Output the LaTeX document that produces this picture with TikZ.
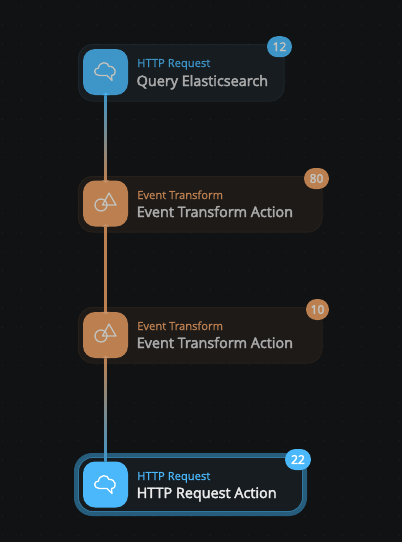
\documentclass[tikz,border=0pt]{standalone}
\usepackage{fontspec}
\setmainfont{Open Sans}
\newfontfamily\semi[FakeBold=3]{Open Sans}
\newfontfamily\lightbold[FakeBold=1]{Open Sans}
\usetikzlibrary{calc}
\definecolor{bgc}{HTML}{111213}
\definecolor{dotc}{HTML}{1E1F20}
\definecolor{blueA}{HTML}{3E95C8}
\definecolor{blueB}{HTML}{4AB8FB}
\definecolor{orangeA}{HTML}{BC8050}
\definecolor{cardB}{HTML}{171C20}
\definecolor{cardO}{HTML}{1E1A18}
\definecolor{cardBline}{HTML}{1C252B}
\definecolor{cardOline}{HTML}{26201B}
\definecolor{titleDim}{HTML}{A9A9A9}
\definecolor{iconDim}{HTML}{C2C2BE}
\tikzset{
  x=1pt,y=-1pt,
  card/.style={rounded corners=14pt,line width=1pt},
  iconbox/.style={minimum width=45pt,minimum height=46pt,inner sep=0pt,rounded corners=12pt,draw=none},
  captxt/.style={font=\fontsize{11.2}{12}\lightbold,anchor=base west,inner sep=0pt},
  ttl/.style={font=\fontsize{14.4}{15}\semi,anchor=base west,inner sep=0pt},
  badge/.style={minimum height=21pt,inner sep=0pt,rounded corners=10.5pt,font=\fontsize{12}{12}\semi},
  glyph/.style={line width=1.3pt,line join=round}
}
\newcommand{\cloudicon}[2]{%
  \begin{scope}[shift={(#1)}]
  \draw[glyph,draw=#2] (-6,4.5) .. controls (-12,4.5) and (-12.5,-3) .. (-7,-3)
    .. controls (-6.5,-9.5) and (2.5,-10) .. (3.5,-4.5)
    .. controls (10,-5.5) and (12.5,4) .. (6,4.5) -- (6.5,9.5) -- (1.5,4.5) -- cycle;
  \end{scope}}
\newcommand{\shapeicon}[2]{%
  \begin{scope}[shift={(#1)}]
  \draw[glyph,draw=#2] (-4,1) circle (6);
  \draw[glyph,draw=#2] (4,-11) -- (11,1) -- (-2.5,1) -- cycle;
  \end{scope}}
\begin{document}
\begin{tikzpicture}
\useasboundingbox (0,0) rectangle (402,542);
\fill[bgc] (0,0) rectangle (402,542);
\foreach \i in {0,...,21} \foreach \j in {0,...,28}
  \fill[dotc] ({2.5+\i*18.9},{6+\j*18.9}) circle (0.7);

% cards
\path[card,fill=cardB,draw=cardBline] (78.5,44.5) rectangle (284,101);
\path[card,fill=cardO,draw=cardOline] (78.5,176.5) rectangle (322,232);
\path[card,fill=cardO,draw=cardOline] (78.5,307.5) rectangle (322,363);
\path[rounded corners=16pt,fill=cardB,draw=blueA!62!black,line width=4.4pt] (76.2,455.2) rectangle (304.8,513.8);
\path[rounded corners=14pt,draw=blueA!80!black,line width=0.9pt] (78.5,457.5) rectangle (302.5,511.5);

% icons
\node[iconbox,fill=blueA] (i1) at (105.5,72) {};
\node[iconbox,fill=orangeA] (i2) at (105.5,203.5) {};
\node[iconbox,fill=orangeA] (i3) at (105.5,335) {};
\node[iconbox,fill=blueB] (i4) at (105.5,484.5) {};

% connectors
\shade[top color=blueA,middle color=orangeA!75!blueA,bottom color=orangeA] ($(i1.south)+(-1.2,0)$) rectangle ($(i2.north)+(1.2,0)$);
\fill[orangeA] ($(i2.south)+(-1.2,0)$) rectangle ($(i3.north)+(1.2,0)$);
\shade[top color=orangeA,middle color=orangeA!75!blueA,bottom color=blueA] ($(i3.south)+(-1.2,0)$) rectangle ($(i4.north)+(1.2,0)$);

% port caps
\fill[blueB!80!blueA] (i1.south) ++(-3.5,0) .. controls +(2,-0.3) and +(2,-2.5) .. ++(3.5,-2.5) .. controls +(1.5,0) and +(1.5,2.2) .. ++(3.5,2.5) -- cycle;
\fill[orangeA!85!white] (i2.north) ++(-3.5,0) .. controls +(2,0.3) and +(2,2.5) .. ++(3.5,2.5) .. controls +(1.5,0) and +(1.5,-2.2) .. ++(3.5,-2.5) -- cycle;
\fill[orangeA!85!white] (i2.south) ++(-3.5,0) .. controls +(2,-0.3) and +(2,-2.5) .. ++(3.5,-2.5) .. controls +(1.5,0) and +(1.5,2.2) .. ++(3.5,2.5) -- cycle;
\fill[orangeA!85!white] (i3.north) ++(-3.5,0) .. controls +(2,0.3) and +(2,2.5) .. ++(3.5,2.5) .. controls +(1.5,0) and +(1.5,-2.2) .. ++(3.5,-2.5) -- cycle;
\fill[orangeA!85!white] (i3.south) ++(-3.5,0) .. controls +(2,-0.3) and +(2,-2.5) .. ++(3.5,-2.5) .. controls +(1.5,0) and +(1.5,2.2) .. ++(3.5,2.5) -- cycle;

% glyphs
\cloudicon{105.5,71}{iconDim}
\shapeicon{105,204}{iconDim}
\shapeicon{105,335}{iconDim}
\cloudicon{105.5,484}{white}

% text
\node[captxt,text=blueA] (t1a) at (137,67) {HTTP Request};
\node[ttl,text=titleDim] (t1b) at (136.5,86) {Query Elasticsearch};
\node[captxt,text=orangeA] (t2a) at (137,199) {Event Transform};
\node[ttl,text=titleDim] (t2b) at (136.5,217) {Event Transform Action};
\node[captxt,text=orangeA] (t3a) at (137,330) {Event Transform};
\node[ttl,text=titleDim] (t3b) at (136.5,348) {Event Transform Action};
\node[captxt,text=blueB] (t4a) at (137,480) {HTTP Request};
\node[ttl,text=white!92!black] (t4b) at (136.5,498) {HTTP Request Action};

% badges
\node[badge,minimum width=25pt,fill=blueA,text=iconDim] (b1) at (279.5,46.7) {12};
\node[badge,minimum width=25pt,fill=orangeA,text=iconDim] (b2) at (316.5,178.5) {80};
\node[badge,minimum width=23pt,fill=orangeA,text=iconDim] (b3) at (317.5,309.5) {10};
\node[badge,minimum width=26pt,fill=blueB,text=white] (b4) at (298,459.5) {22};
\end{tikzpicture}
\end{document}
